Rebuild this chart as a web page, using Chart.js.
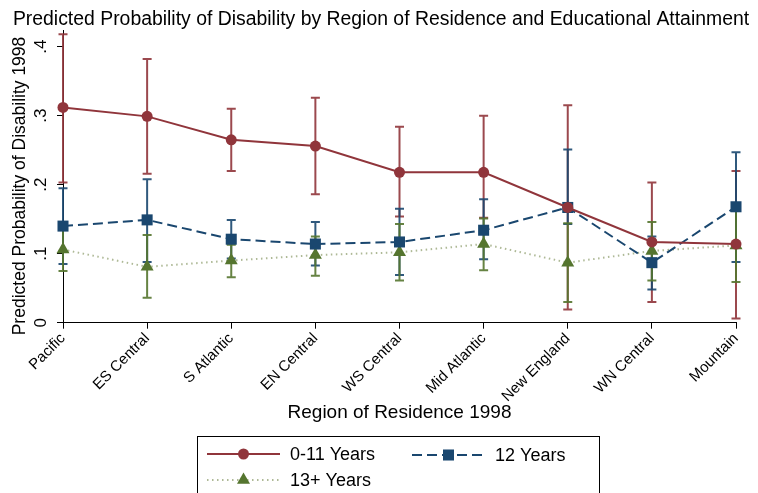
<!DOCTYPE html>
<html>
<head>
<meta charset="utf-8">
<script src="https://cdn.jsdelivr.net/npm/chart.js@4.4.0/dist/chart.umd.min.js"></script>
<style>
  html, body { margin: 0; padding: 0; background: #fff; }
  #wrap { width: 758px; height: 493px; }
</style>
</head>
<body>
<div id="wrap"><canvas id="grafico" width="758" height="493"></canvas></div>
<script>
// categorias (eixo x)
const regioes = ['Pacific', 'ES Central', 'S Atlantic', 'EN Central', 'WS Central',
                 'Mid Atlantic', 'New England', 'WN Central', 'Mountain'];

// 0-11 anos de estudo
const anos011 = [0.312, 0.299, 0.265, 0.256, 0.218, 0.218, 0.167, 0.117, 0.114];
const anos011Min = [0.203, 0.216, 0.220, 0.186, 0.154, 0.152, 0.019, 0.030, 0.006];
const anos011Max = [0.418, 0.382, 0.310, 0.326, 0.284, 0.300, 0.315, 0.203, 0.220];

// 12 anos
const anos12 = [0.140, 0.149, 0.121, 0.114, 0.117, 0.134, 0.167, 0.087, 0.168];
const anos12Min = [0.085, 0.088, 0.093, 0.083, 0.069, 0.092, 0.143, 0.048, 0.088];
const anos12Max = [0.195, 0.208, 0.149, 0.146, 0.165, 0.179, 0.251, 0.125, 0.247];

// 13+ anos
const anos13 = [0.106, 0.081, 0.090, 0.098, 0.102, 0.114, 0.087, 0.104, 0.112];
const anos13Min = [0.075, 0.036, 0.066, 0.068, 0.061, 0.076, 0.030, 0.061, 0.059];
const anos13Max = [0.138, 0.127, 0.113, 0.125, 0.143, 0.151, 0.144, 0.146, 0.165];

// ticks do eixo y (estilo Stata: ".1", ".2" ...)
const yTicks = [0, 0.1, 0.2, 0.3, 0.4];
const yTickLabels = ['0', '.1', '.2', '.3', '.4'];

const legendaNomes = ['0-11 Years', '12 Years', '13+ Years'];
const titulo = 'Predicted Probability of Disability by Region of Residence and Educational Attainment';

const FONTE = '"Liberation Sans", Arial, sans-serif';
const VERMELHO = 'rgb(144,53,59)';
const AZUL = 'rgb(26,71,111)';
const VERDE = 'rgb(85,117,47)';

Chart.defaults.font.family = FONTE;
Chart.defaults.color = '#000';

// desenha um marcador simples (usado na legenda)
function desenharMarcador(ctx, estilo, x, y, r, cor) {
    ctx.save();
    ctx.fillStyle = cor;
    ctx.beginPath();
    if (estilo === 'circle') {
        ctx.arc(x, y, r, 0, Math.PI * 2);
    } else if (estilo === 'rect') {
        const s = r * Math.SQRT1_2;
        ctx.rect(x - s, y - s, 2 * s, 2 * s);
    } else if (estilo === 'triangle') {
        ctx.moveTo(x, y - r);
        ctx.lineTo(x + r * Math.sin(Math.PI / 3), y + r * 0.5);
        ctx.lineTo(x - r * Math.sin(Math.PI / 3), y + r * 0.5);
        ctx.closePath();
    }
    ctx.fill();
    ctx.restore();
}

// barras de erro (intervalos) desenhadas pelas escalas do grafico
const barrasErro = {
    id: 'barrasErro',
    beforeDatasetsDraw(chart) {
        const ctx = chart.ctx;
        const yScale = chart.scales.y;
        chart.data.datasets.forEach((ds, i) => {
            const meta = chart.getDatasetMeta(i);
            if (!ds.errMin) return;
            ctx.save();
            ctx.strokeStyle = ds.corErro;
            ctx.lineWidth = 2;
            meta.data.forEach((pt, j) => {
                const x = pt.x;
                const yLo = yScale.getPixelForValue(ds.errMin[j]);
                const yHi = yScale.getPixelForValue(ds.errMax[j]);
                ctx.beginPath();
                ctx.moveTo(x, yLo);
                ctx.lineTo(x, yHi);
                ctx.moveTo(x - 4.5, yLo);
                ctx.lineTo(x + 4.5, yLo);
                ctx.moveTo(x - 4.5, yHi);
                ctx.lineTo(x + 4.5, yHi);
                ctx.stroke();
            });
            ctx.restore();
        });
    }
};

// titulo, rotulos do eixo y girados e titulo do eixo y
const textosStata = {
    id: 'textosStata',
    afterDraw(chart) {
        const ctx = chart.ctx;
        const yScale = chart.scales.y;
        const area = chart.chartArea;
        ctx.save();
        ctx.fillStyle = '#000';
        ctx.textAlign = 'center';

        ctx.textBaseline = 'middle';
        ctx.font = '19.4px ' + FONTE;
        ctx.fillText(titulo, 381, 19.5);

        ctx.textBaseline = 'alphabetic';
        ctx.font = '17px ' + FONTE;
        yTicks.forEach((v, i) => {
            const y = yScale.getPixelForValue(v);
            ctx.save();
            ctx.translate(area.left - 17, y);
            ctx.rotate(-Math.PI / 2);
            ctx.fillText(yTickLabels[i], 0, 0);
            ctx.restore();
        });
        ctx.font = '17.5px ' + FONTE;
        ctx.translate(25, 186);
        ctx.rotate(-Math.PI / 2);
        ctx.fillText('Predicted Probability of Disability 1998', 0, 0);
        ctx.restore();
    }
};

// legenda no estilo Stata (linha + marcador)
const legendaStata = {
    id: 'legendaStata',
    afterDraw(chart) {
        const ctx = chart.ctx;
        const caixa = { x: 197.5, y: 436.5, w: 402, h: 80 };
        const itens = [
            { ds: 0, x: 207, y: 454 },
            { ds: 1, x: 412, y: 455 },
            { ds: 2, x: 207, y: 480 }
        ];
        ctx.save();
        ctx.strokeStyle = '#000';
        ctx.lineWidth = 1;
        ctx.strokeRect(caixa.x, caixa.y, caixa.w, caixa.h);
        itens.forEach(it => {
            const ds = chart.data.datasets[it.ds];
            ctx.save();
            ctx.strokeStyle = ds.borderColor;
            ctx.lineWidth = ds.borderWidth;
            ctx.setLineDash(ds.borderDash || []);
            ctx.beginPath();
            ctx.moveTo(it.x, it.y);
            ctx.lineTo(it.x + 73, it.y);
            ctx.stroke();
            ctx.restore();
            desenharMarcador(ctx, ds.pointStyle, it.x + 36.5, it.y, ds.pointRadius, ds.pointBackgroundColor);
            ctx.fillStyle = '#000';
            ctx.font = '18px ' + FONTE;
            ctx.textAlign = 'left';
            ctx.textBaseline = 'middle';
            ctx.fillText(legendaNomes[it.ds], it.x + 83, it.y + 1);
        });
        ctx.restore();
    }
};

const fundoBranco = {
    id: 'fundoBranco',
    beforeDraw(chart) {
        const ctx = chart.ctx;
        ctx.save();
        ctx.fillStyle = '#fff';
        ctx.fillRect(0, 0, chart.width, chart.height);
        ctx.restore();
    }
};

new Chart(document.getElementById('grafico').getContext('2d'), {
    type: 'line',
    data: {
        labels: regioes,
        datasets: [
            {
                label: legendaNomes[0],
                data: anos011,
                errMin: anos011Min,
                errMax: anos011Max,
                corErro: 'rgba(144,53,59,0.9)',
                borderColor: VERMELHO,
                borderWidth: 2,
                pointStyle: 'circle',
                pointRadius: 5.5,
                pointBackgroundColor: VERMELHO,
                pointBorderWidth: 0,
                tension: 0,
                clip: false
            },
            {
                label: legendaNomes[1],
                data: anos12,
                errMin: anos12Min,
                errMax: anos12Max,
                corErro: 'rgba(26,71,111,0.9)',
                borderColor: AZUL,
                borderWidth: 2,
                borderDash: [10, 5],
                pointStyle: 'rect',
                pointRadius: 7.8,
                pointBackgroundColor: AZUL,
                pointBorderWidth: 0,
                tension: 0,
                clip: false
            },
            {
                label: legendaNomes[2],
                data: anos13,
                errMin: anos13Min,
                errMax: anos13Max,
                corErro: 'rgba(85,117,47,0.9)',
                borderColor: 'rgba(140,155,105,0.7)',
                borderWidth: 2,
                borderDash: [1.5, 3.5],
                pointStyle: 'triangle',
                pointRadius: 7.5,
                pointBackgroundColor: VERDE,
                pointBorderWidth: 0,
                tension: 0,
                clip: false
            }
        ]
    },
    options: {
        responsive: false,
        animation: false,
        layout: { padding: { left: 0, right: 22, top: 30.8, bottom: 68 } },
        plugins: {
            legend: { display: false },
            tooltip: { enabled: false },
            title: { display: false }
        },
        scales: {
            x: {
                grid: { drawOnChartArea: false, drawTicks: true, tickLength: 6, color: '#000' },
                border: { color: '#000', width: 1 },
                ticks: { font: { size: 15 }, color: '#000', minRotation: 45, maxRotation: 45, padding: 1, autoSkip: false },
                title: {
                    display: true,
                    text: 'Region of Residence 1998',
                    color: '#000',
                    font: { size: 19 },
                    padding: { top: 0, bottom: 1 }
                },
                afterFit(scale) { scale.height = 102.3; }
            },
            y: {
                min: 0,
                max: 0.423,
                grid: { drawOnChartArea: false, drawTicks: true, tickLength: 6, color: '#000' },
                border: { color: '#000', width: 1 },
                ticks: { display: false },
                afterBuildTicks(scale) { scale.ticks = yTicks.map(v => ({ value: v })); },
                afterFit(scale) { scale.width = 63; }
            }
        }
    },
    plugins: [fundoBranco, barrasErro, textosStata, legendaStata]
});
</script>
</body>
</html>
